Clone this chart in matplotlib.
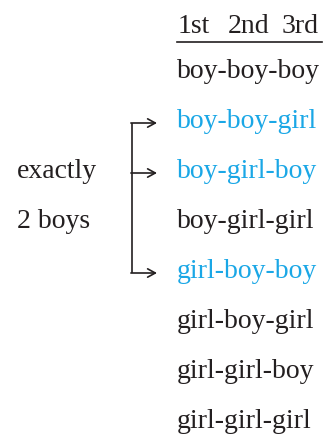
import matplotlib
matplotlib.use("Agg")
import matplotlib.pyplot as plt

header = ["1st", "2nd", "3rd"]
header_x = [178, 228, 282]
outcomes = ["boy-boy-boy", "boy-boy-girl", "boy-girl-boy", "boy-girl-girl",
            "girl-boy-boy", "girl-boy-girl", "girl-girl-boy", "girl-girl-girl"]
highlight = [False, True, True, False, True, False, False, False]
label_lines = ["exactly", "2 boys"]

BLUE = "#1aa7e6"
DARK = "#231f20"
FONT = "Liberation Serif"

fig = plt.figure(figsize=(3.27, 4.37), dpi=100)
ax = fig.add_axes([0, 0, 1, 1])
ax.set_xlim(0, 327)
ax.set_ylim(437, 0)
ax.axis("off")

fs = 20
for h, x in zip(header, header_x):
    ax.text(x, 33, h, fontsize=fs, family=FONT, color=DARK, va="baseline", ha="left")
ax.plot([177, 322], [41.5, 41.5], color=DARK, lw=1.2)

y0, dy = 78, 50
ys = []
for i, (o, h) in enumerate(zip(outcomes, highlight)):
    y = y0 + i * dy
    ys.append(y)
    ax.text(177, y, o, fontsize=fs, family=FONT, color=BLUE if h else DARK,
            va="baseline", ha="left")

ax.text(17, ys[2], label_lines[0], fontsize=fs, family=FONT, color=DARK, va="baseline", ha="left")
ax.text(17, ys[3], label_lines[1], fontsize=fs, family=FONT, color=DARK, va="baseline", ha="left")

hy = [ys[i] - 5 for i, h in enumerate(highlight) if h]
bx = 131.5
ax.plot([bx, bx], [min(hy), max(hy)], color=DARK, lw=1.2, solid_capstyle="butt")
for y in hy:
    ax.annotate("", xy=(157, y), xytext=(bx - 0.6, y),
                arrowprops=dict(arrowstyle="->,head_length=0.55,head_width=0.3",
                                color=DARK, lw=1.2, shrinkA=0, shrinkB=0))

fig.savefig("out.png", dpi=100)
